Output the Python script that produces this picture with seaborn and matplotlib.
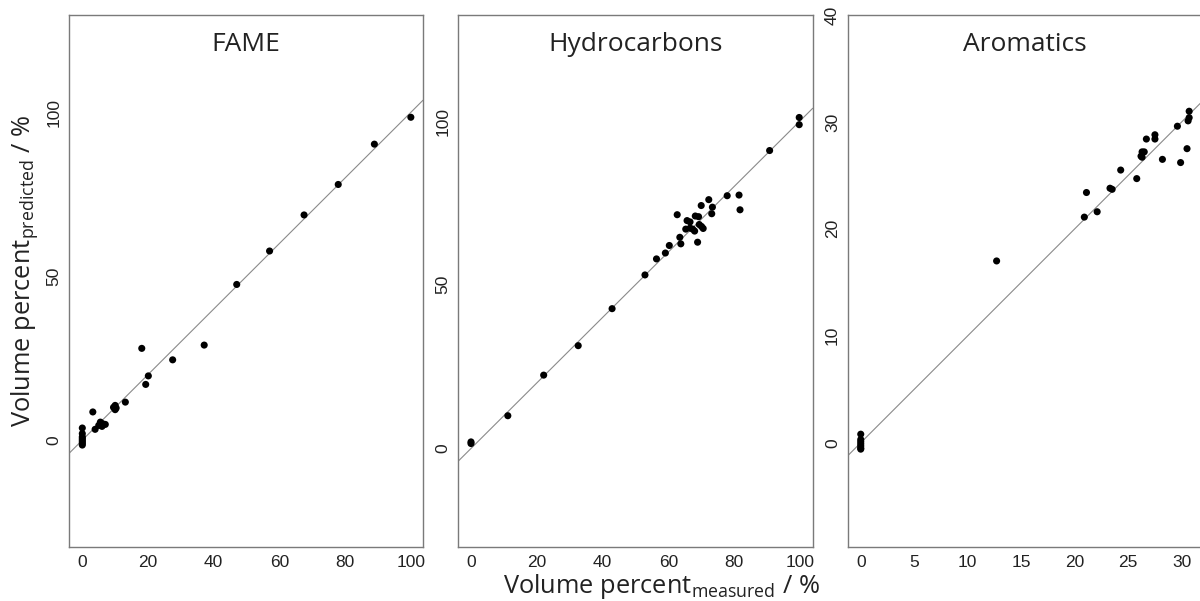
import matplotlib
matplotlib.use("Agg")
import matplotlib.pyplot as plt
import seaborn as sns
import pandas as pd

# ---------------- data ----------------
fame_measured = [0, 0, 0, 0, 0, 0, 0, 0,
                 3.2, 3.9, 5.0, 5.5, 6.0, 6.2, 7.0,
                 9.5, 10.0, 10.0, 10.3, 13.1, 18.1, 19.3, 20.1, 27.5, 37.1,
                 47.0, 57.0, 67.5, 77.9, 88.9, 100.0]
fame_predicted = [3.7, 2.0, 1.0, 0.5, 0.0, -0.5, -1.0, -1.5,
                  8.6, 3.3, 4.5, 5.5, 4.2, 5.0, 4.8,
                  10.0, 10.6, 9.3, 9.8, 11.6, 28.0, 17.0, 19.6, 24.5, 29.0,
                  47.5, 57.7, 68.7, 78.0, 90.3, 98.5]

hc_measured = [0, 0, 11.2, 22.1, 32.6, 42.9, 52.9, 56.4, 59.1, 60.3,
               63.5, 63.8, 62.7, 65.7, 66.6, 65.3, 66.6, 67.4, 68.0, 68.2,
               69.2, 69.4, 70.1, 70.6, 68.9, 70.0, 72.3, 73.4, 73.2, 77.9,
               81.5, 81.8, 90.8, 99.8, 99.8]
hc_predicted = [1.5, 2.0, 10.0, 22.4, 31.4, 42.7, 53.0, 57.9, 59.7, 62.0,
                64.5, 62.5, 71.4, 69.6, 69.2, 67.0, 67.3, 67.0, 66.4, 71.0,
                70.8, 68.4, 67.8, 67.2, 63.0, 74.2, 76.0, 73.7, 71.7, 77.2,
                77.4, 72.9, 91.0, 101.1, 98.9]

aro_measured = [0, 0, 0, 0, 0, 0, 0,
                12.7, 20.9, 21.1, 22.1, 23.3, 23.5, 24.3, 25.8, 26.2, 26.3,
                26.3, 26.5, 26.7, 27.5, 27.5, 28.2, 29.6, 29.9, 30.5, 30.6,
                30.7, 30.7]
aro_predicted = [0.8, 0.3, 0.1, -0.1, -0.3, -0.5, -0.6,
                 17.0, 21.1, 23.4, 21.6, 23.8, 23.7, 25.5, 24.7, 26.8, 26.7,
                 27.2, 27.2, 28.4, 28.8, 28.4, 26.5, 29.6, 26.2, 27.5, 30.1,
                 30.4, 31.0]

titles = ["FAME", "Hydrocarbons", "Aromatics"]
x_ticks = [[0, 20, 40, 60, 80, 100], [0, 20, 40, 60, 80, 100], [0, 5, 10, 15, 20, 25, 30]]
y_ticks = [[0, 50, 100], [0, 50, 100], [0, 10, 20, 30, 40]]

# ---------------- style ----------------
sns.set_style("white")
plt.rcParams["font.family"] = ["Liberation Sans", "DejaVu Sans"]
plt.rcParams["mathtext.fontset"] = "custom"
plt.rcParams["mathtext.rm"] = "Open Sans"
plt.rcParams["mathtext.it"] = "Open Sans:italic"

W, H = 1200, 601
fig = plt.figure(figsize=(W / 100, H / 100), dpi=100)

# axes boxes in pixels: (left, top, right, bottom)
boxes = [(69, 15, 423, 547), (458.3, 15, 812.7, 547), (847.7, 15, 1202, 547)]
xlims = [(-4.05, 103.7), (-3.86, 103.9), (-1.22, 31.9)]
ylims = [(-32.6, 129.7), (-30.1, 132.4), (-9.75, 40.0)]

datasets = [(fame_measured, fame_predicted),
            (hc_measured, hc_predicted),
            (aro_measured, aro_predicted)]

for i, ((xm, yp), box) in enumerate(zip(datasets, boxes)):
    l, t, r, b = box
    ax = fig.add_axes([l / W, (H - b) / H, (r - l) / W, (b - t) / H])
    df = pd.DataFrame({"measured": xm, "predicted": yp})
    ax.axline((0, 0), slope=1, color="#8a8a8a", lw=0.8, zorder=1)
    sns.scatterplot(data=df, x="measured", y="predicted", ax=ax,
                    color="black", s=26, edgecolor="none", zorder=3)
    ax.set_xlim(*xlims[i])
    ax.set_ylim(*ylims[i])
    ax.set_xticks(x_ticks[i])
    ax.set_yticks(y_ticks[i])
    ax.set_xlabel("")
    ax.set_ylabel("")
    ax.tick_params(axis="both", which="both", direction="out", length=3.5,
                   width=0.8, color="#777777", labelsize=12.5,
                   labelcolor="#222222", pad=2)
    for lab in ax.get_yticklabels():
        lab.set_rotation(90)
        lab.set_va("center")
    for sp in ax.spines.values():
        sp.set_color("#7a7a7a")
        sp.set_linewidth(1.0)
        sp.set_visible(True)
    ax.text(0.5, 0.945, titles[i], transform=ax.transAxes, ha="center",
            va="center", fontsize=19, family="Open Sans", color="#222222")

fig.text(661 / W, (H - 593) / H, r"Volume percent$_{\mathrm{measured}}$ / %",
         ha="center", va="baseline", fontsize=18.3, family="Open Sans",
         color="#222222")
fig.text(25 / W, (H - 271) / H, r"Volume percent$_{\mathrm{predicted}}$ / %",
         ha="center", va="center", rotation=90, fontsize=18.3,
         family="Open Sans", color="#222222")

fig.savefig("out.png", dpi=100)
